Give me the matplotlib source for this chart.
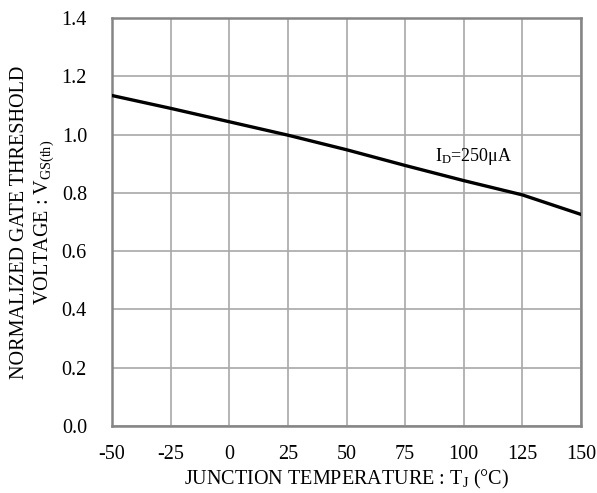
import matplotlib
matplotlib.use("Agg")
import matplotlib.pyplot as plt

# data
temps = [-50, -25, 0, 25, 50, 75, 100, 125, 150]
vgs_norm = [1.134, 1.090, 1.044, 0.998, 0.948, 0.894, 0.842, 0.793, 0.726]

x_ticks = [-50, -25, 0, 25, 50, 75, 100, 125, 150]
y_ticks = [0.0, 0.2, 0.4, 0.6, 0.8, 1.0, 1.2, 1.4]

plt.rcParams['font.family'] = ['Liberation Serif', 'DejaVu Serif']
plt.rcParams['mathtext.fontset'] = 'custom'
plt.rcParams['mathtext.rm'] = 'Liberation Serif'
plt.rcParams['mathtext.it'] = 'Liberation Serif:italic'
plt.rcParams['axes.unicode_minus'] = False

fig = plt.figure(figsize=(5.97, 4.93), dpi=100)
ax = fig.add_axes([112 / 597, 1 - 426 / 493, 469 / 597, 408 / 493])

ax.plot(temps, vgs_norm, color='black', lw=2.4, zorder=3)

ax.set_xlim(-50, 150)
ax.set_ylim(0, 1.4)
ax.set_xticks(x_ticks)
ax.set_yticks(y_ticks)
ax.set_xticklabels([str(t) for t in x_ticks])
ax.set_yticklabels([f"{v:.1f}" for v in y_ticks])
ax.tick_params(length=0, labelsize=14.5)
ax.tick_params(axis='x', pad=14)
ax.tick_params(axis='y', pad=18)

ax.grid(True, color='#a8a8a8', lw=1.2)
ax.set_axisbelow(True)
for s in ax.spines.values():
    s.set_color('#858585')
    s.set_linewidth(1.8)

ax.set_xlabel(r"JUNCTION TEMPERATURE : T$_\mathregular{J}$ (°C)", fontsize=14.5)
ax.xaxis.set_label_coords(0.5, -0.102)
ax.set_ylabel("NORMALIZED GATE THRESHOLD\n" + r"VOLTAGE : V$_\mathregular{GS(th)}$",
              fontsize=14.5, linespacing=1.2)
ax.yaxis.set_label_coords(-0.119, 0.5)

ax.text(87.7, 0.924, r"I$_\mathregular{D}$=250μA", fontsize=13, ha='left', va='center')

fig.savefig("out.png", dpi=100)
